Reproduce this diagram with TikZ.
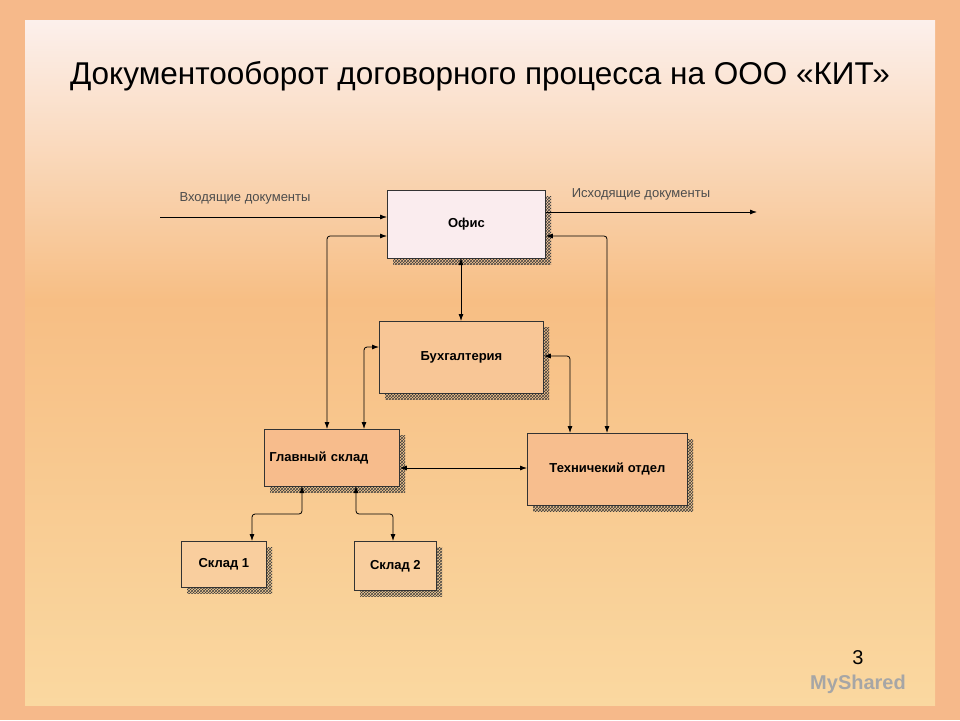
\documentclass[tikz,border=0pt]{standalone}
\usepackage{fontspec}
\setmainfont{Liberation Sans}
\usetikzlibrary{arrows.meta,positioning,patterns}

\begin{document}
\begin{tikzpicture}[x=1pt,y=-1pt,
    block/.style={rectangle, draw=black!80, line width=0.8pt, anchor=north west,
        inner sep=0pt, font=\bfseries\fontsize{13}{15}\selectfont},
    link/.style={line width=0.8pt, rounded corners=3pt, {Latex[length=7pt,width=5pt]}-{Latex[length=7pt,width=5pt]}},
    flow/.style={line width=0.8pt, -{Latex[length=7pt,width=5pt]}},
    note/.style={font=\fontsize{13}{15}\selectfont, text=black!70}
    ]
    % background
    \useasboundingbox (0,0) rectangle (960,720);
    \fill[color={rgb,255:red,246;green,185;blue,138}] (0,0) rectangle (960,720);
    \shade[top color={rgb,255:red,252;green,240;blue,236}, bottom color={rgb,255:red,247;green,190;blue,132}]
        (25,20) rectangle (935,300);
    \shade[top color={rgb,255:red,247;green,190;blue,132}, bottom color={rgb,255:red,250;green,216;blue,160}]
        (25,299) rectangle (935,705);
    \node (title) at (480,76) {\fontsize{31.5}{36}\selectfont Документооборот договорного процесса на ООО «КИТ»};
    % shadows
    \foreach \xa/\ya/\xb/\yb in {387/190/545/258, 379/321/543/393, 264/429/399/486, 527/433/687/505, 181/541/266/587, 354/541/436/590}
        \fill[pattern=crosshatch, pattern color=black!75] (\xa+6,\ya+6) rectangle (\xb+6,\yb+6);
    % blocks
    \node (office) [block, minimum width=158pt, minimum height=68pt, fill={rgb,255:red,250;green,236;blue,238}] at (387,190) {Офис};
    \node (account) [block, minimum width=164pt, minimum height=72pt, fill={rgb,255:red,248;green,198;blue,150}] at (379,321) {Бухгалтерия};
    \node (mainstore) [block, minimum width=135pt, minimum height=57pt, fill={rgb,255:red,247;green,188;blue,140}, align=left, text width=125pt] at (264,429) {Главный склад};
    \node (tech) [block, minimum width=160pt, minimum height=72pt, fill={rgb,255:red,247;green,190;blue,142}] at (527,433) {Техничекий отдел};
    \node (store1) [block, minimum width=85pt, minimum height=46pt, fill={rgb,255:red,249;green,206;blue,158}] at (181,541) {Склад 1};
    \node (store2) [block, minimum width=82pt, minimum height=49pt, fill={rgb,255:red,249;green,206;blue,158}] at (354,541) {Склад 2};
    % connectors
    \coordinate (inbeg) at (160,217);
    \coordinate (outend) at (757,212);
    \draw[flow] (inbeg) -- (inbeg -| office.west);
    \draw[flow] (outend -| office.east) -- (outend);
    \node[note] (inlabel) at (245,198) {Входящие документы};
    \node[note] (outlabel) at (641,194) {Исходящие документы};
    \draw[link] (office.west |- 0,236) -| (327,429);
    \draw[link] (office.east |- 0,236) -| (607,433);
    \draw[link] (461,258) -- (461,321);
    \draw[link] (account.west |- 0,347) -| (364,429);
    \draw[link] (account.east |- 0,356) -| (570,433);
    \draw[link] (mainstore.east |- 0,468) -- (tech.west |- 0,468);
    \draw[link] (302,486) |- (252,514) -- (252,541);
    \draw[link] (356,486) |- (393,514) -- (393,541);
    \node (page) at (858,658) {\fontsize{20}{22}\selectfont 3};
    \node (mark) [text=black!35] at (858,684) {\bfseries\fontsize{20}{22}\selectfont MyShared};
\end{tikzpicture}
\end{document}
